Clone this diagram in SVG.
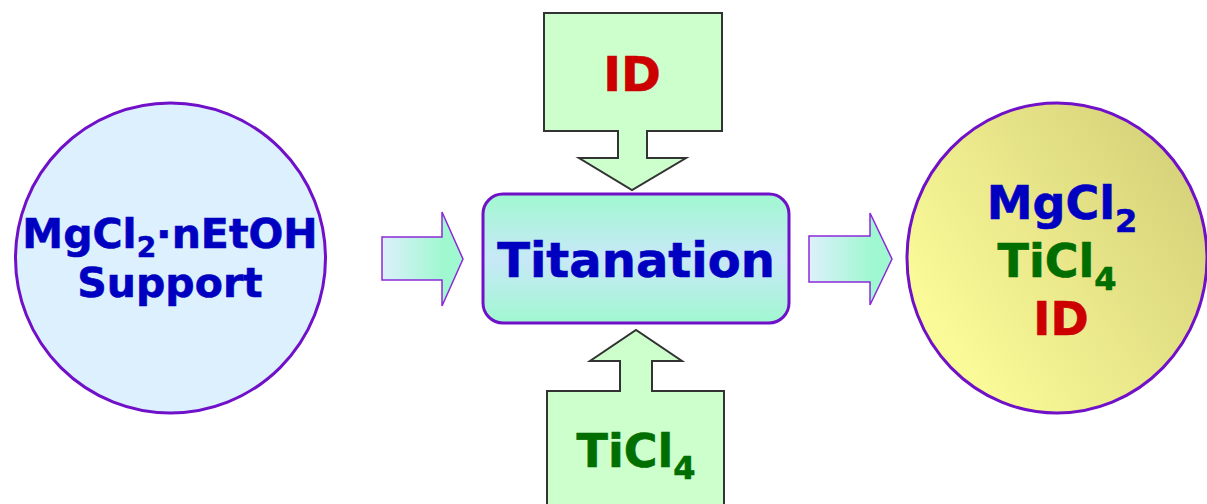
<svg xmlns="http://www.w3.org/2000/svg" width="1207" height="504" viewBox="0 0 1207 504">
<style>
.t{font-family:"DejaVu Sans",Verdana,sans-serif;font-weight:bold;text-anchor:middle;stroke-width:0.6}
.blue{fill:#0000c0;stroke:#0000c0}.green{fill:#006e00;stroke:#006e00}.red{fill:#cc0000;stroke:#cc0000}
.node{stroke:#7010c8;stroke-width:3}
.feed{fill:#ccffcc;stroke:#333;stroke-width:2}
.arr{stroke:#8a2ad8;stroke-width:1.5;fill:url(#ga)}
</style>
<defs>
<linearGradient id="ga" x1="0" y1="0" x2="1" y2="0">
<stop offset="0" stop-color="#dcf0fc"/><stop offset="0.75" stop-color="#a0f8d0"/>
</linearGradient>
<linearGradient id="gb" x1="0" y1="0" x2="0" y2="1">
<stop offset="0" stop-color="#a0f8d0"/><stop offset="0.5" stop-color="#c8e8f8"/><stop offset="1" stop-color="#a0f8d0"/>
</linearGradient>
<linearGradient id="gy" x1="0.2" y1="0.85" x2="1" y2="0.3">
<stop offset="0" stop-color="#fafa98"/><stop offset="1" stop-color="#d6d27a"/>
</linearGradient>
</defs>
<g id="support">
<circle class="node" cx="170.5" cy="258" r="155" fill="#ddf0fe"/>
<text class="t blue" x="170" y="248" font-size="41">MgCl<tspan font-size="28" dy="9">2</tspan><tspan dy="-9">·nEtOH</tspan></text>
<text class="t blue" x="170" y="297" font-size="41">Support</text>
</g>
<g id="titanation">
<rect class="node" x="483" y="194" width="306" height="129" rx="20" fill="url(#gb)"/>
<text class="t blue" x="636" y="277" font-size="48">Titanation</text>
</g>
<g id="id-feed">
<path class="feed" d="M544,13H722V131H647V158H686L632,190L579,158H618V131H544Z"/>
<text class="t red" x="632" y="91" font-size="48">ID</text>
</g>
<g id="ticl4-feed">
<path class="feed" d="M547,510V391H620V361H590L636,330L682,361H652V391H724V510"/>
<text class="t green" x="636" y="467" font-size="46">TiCl<tspan font-size="32" dy="12">4</tspan></text>
</g>
<g id="product">
<ellipse class="node" cx="1057" cy="258" rx="150" ry="155" fill="url(#gy)"/>
<text class="t blue" x="1062" y="219" font-size="46">MgCl<tspan font-size="32" dy="13">2</tspan></text>
<text class="t green" x="1057" y="277" font-size="46">TiCl<tspan font-size="32" dy="13">4</tspan></text>
<text class="t red" x="1061" y="335" font-size="46">ID</text>
</g>
<g id="connectors">
<path class="arr" d="M382,237H442V212L463,259L442,306V280H382Z"/>
<path class="arr" d="M809,236H870V213L892,259L870,305V282H809Z"/>
</g>
</svg>
